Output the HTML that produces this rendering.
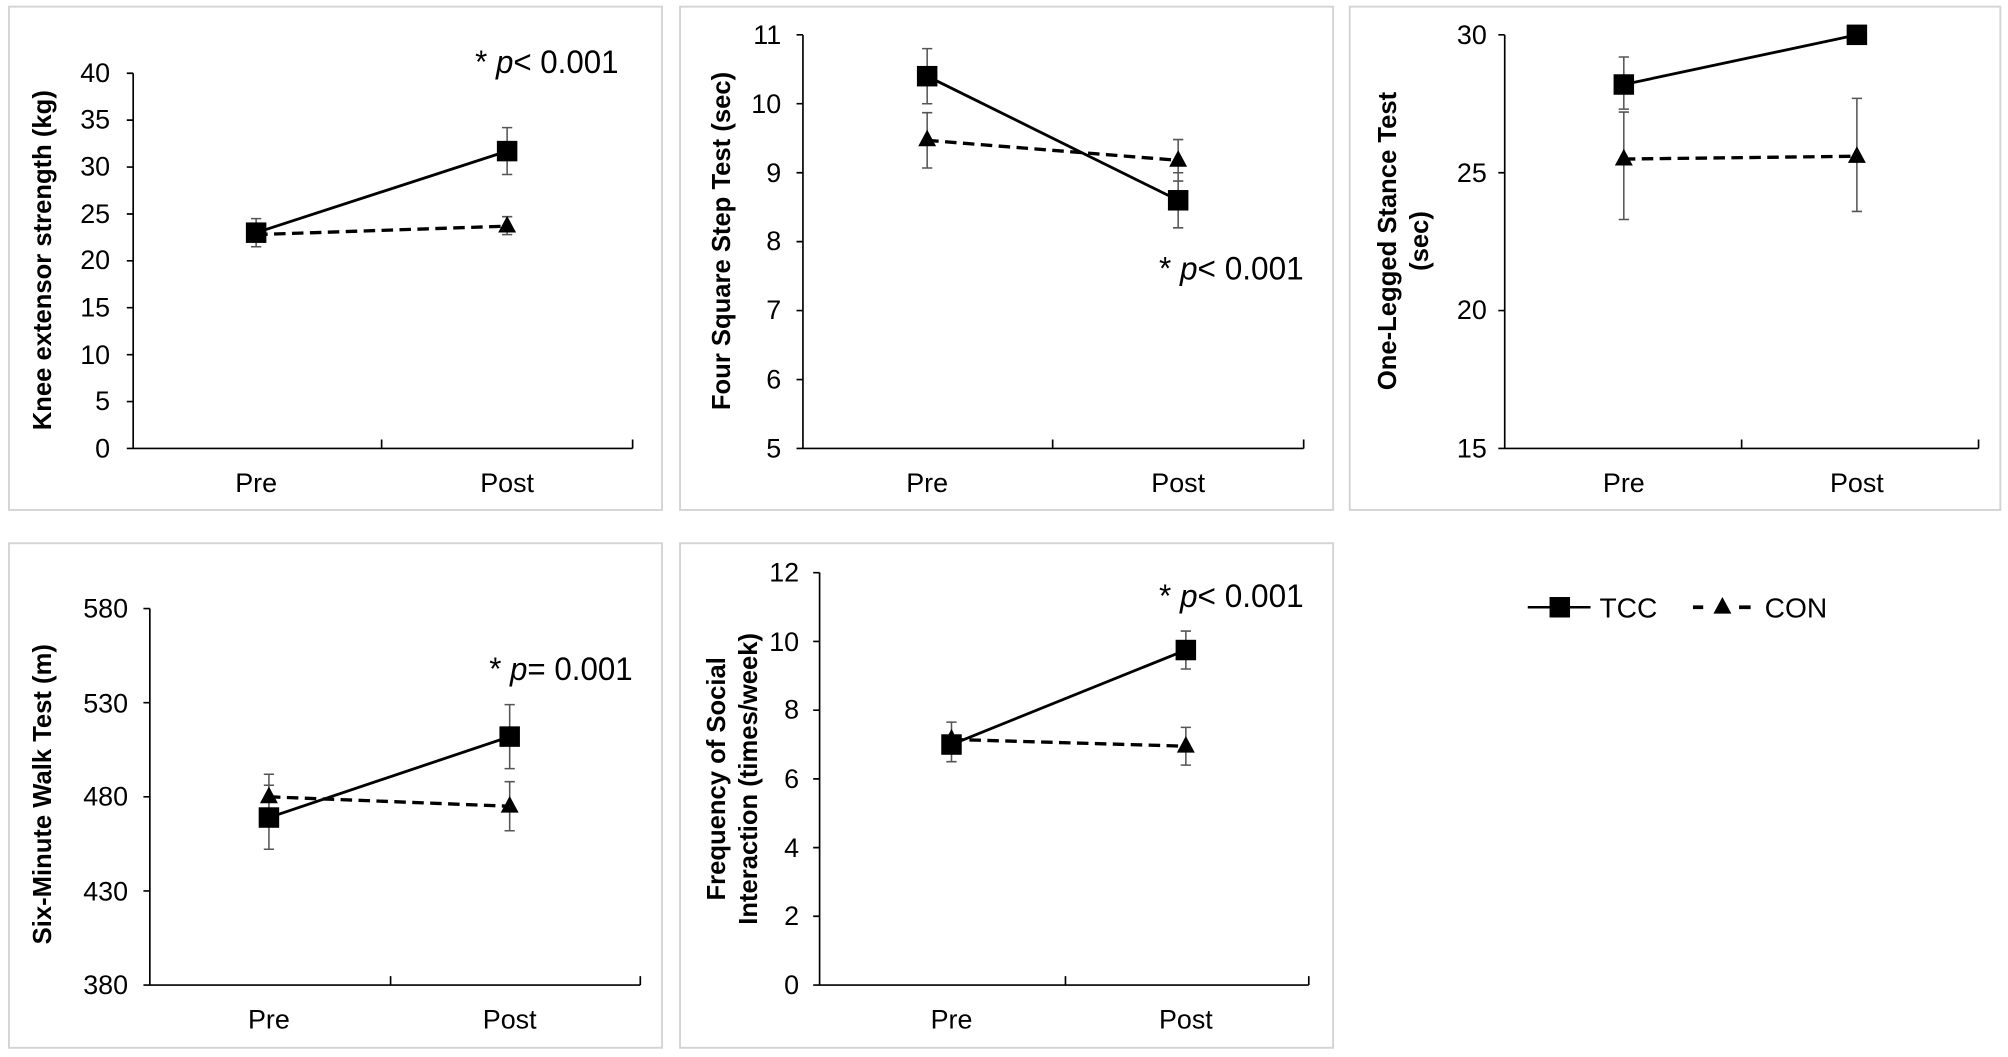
<!DOCTYPE html>
<html><head><meta charset="utf-8"><style>
html,body{margin:0;padding:0;background:#fff}
svg{display:block}
text{font-family:"Liberation Sans",Arial,sans-serif;fill:#000}
.t{font-size:21px}
.yl{font-size:20px;font-weight:bold}
.x{font-size:21px;text-anchor:middle}
.p{font-size:25px}
</style></head><body>
<svg width="2008" height="1057" viewBox="0 0 1568 825" xmlns="http://www.w3.org/2000/svg">
<g fill="none" stroke="#d4d4d4" stroke-width="1.5">
<rect x="7" y="5" width="510" height="393"/>
<rect x="531" y="5" width="510" height="393"/>
<rect x="1054" y="5" width="508" height="393"/>
<rect x="7" y="424" width="510" height="394"/>
<rect x="531" y="424" width="510" height="394"/>
</g>

<!-- Panel 1 -->
<g stroke="#000" stroke-width="1.3" fill="none">
<path d="M104,57V350H494M104,57h-5M104,93.6h-5M104,130.25h-5M104,166.9h-5M104,203.5h-5M104,240.1h-5M104,276.75h-5M104,313.4h-5M104,350h-5M298,350v-7M494,350v-7"/>
</g>
<g class="t" text-anchor="end">
<text x="86" y="64">40</text><text x="86" y="100">35</text><text x="86" y="137">30</text><text x="86" y="174">25</text><text x="86" y="210">20</text><text x="86" y="247">15</text><text x="86" y="284">10</text><text x="86" y="320">5</text><text x="86" y="357">0</text>
</g>
<text class="x" x="200" y="384">Pre</text><text class="x" x="396" y="384">Post</text>
<text class="yl" transform="translate(40,203) rotate(-90)" text-anchor="middle">Knee extensor strength (kg)</text>
<g stroke="#555" stroke-width="1.2">
<path d="M200,192.5V170.5M196,192.5h8M196,170.5h8M396,136.1V99.5M392,136.1h8M392,99.5h8M200,190.3V175.7M396,183V169M392,183h8M392,169h8"/>
</g>
<path d="M200,181.5L396,117.8" stroke="#000" stroke-width="2.2"/>
<path d="M200,183L396,176.4" stroke="#000" stroke-width="2.6" stroke-dasharray="9,5"/>
<rect x="192" y="173.5" width="16" height="16"/><rect x="388" y="109.8" width="16" height="16"/>
<path d="M200,175l7,13h-14z M396,168.4l7,13h-14z"/>
<text class="p" x="371" y="57" textLength="112" lengthAdjust="spacingAndGlyphs">* <tspan font-style="italic">p</tspan>&lt; 0.001</text>

<!-- Panel 2 -->
<g stroke="#000" stroke-width="1.3" fill="none">
<path d="M627,27V350H1018M627,27h-5M627,80.8h-5M627,134.7h-5M627,188.5h-5M627,242.3h-5M627,296.2h-5M627,350h-5M822,350v-7M1018,350v-7"/>
</g>
<g class="t" text-anchor="end">
<text x="610" y="34">11</text><text x="610" y="88">10</text><text x="610" y="142">9</text><text x="610" y="195">8</text><text x="610" y="249">7</text><text x="610" y="303">6</text><text x="610" y="357">5</text>
</g>
<text class="x" x="724" y="384">Pre</text><text class="x" x="920" y="384">Post</text>
<text class="yl" transform="translate(570,188) rotate(-90)" text-anchor="middle">Four Square Step Test (sec)</text>
<g stroke="#555" stroke-width="1.2">
<path d="M724,37.8V80.8M720,37.8h8M720,80.8h8M920,134.7V177.7M916,134.7h8M916,177.7h8M724,87.8V131M720,87.8h8M720,131h8M920,108.8V141.2M916,108.8h8M916,141.2h8"/>
</g>
<path d="M724,59.3L920,156.2" stroke="#000" stroke-width="2.2"/>
<path d="M724,109.4L920,125" stroke="#000" stroke-width="2.6" stroke-dasharray="9,5"/>
<rect x="716" y="51.3" width="16" height="16"/><rect x="912" y="148.2" width="16" height="16"/>
<path d="M724,101l7,13h-14z M920,117l7,13h-14z"/>
<text class="p" x="905" y="218" textLength="113" lengthAdjust="spacingAndGlyphs">* <tspan font-style="italic">p</tspan>&lt; 0.001</text>

<!-- Panel 3 -->
<g stroke="#000" stroke-width="1.3" fill="none">
<path d="M1175,27V350H1545M1175,27h-5M1175,134.7h-5M1175,242.3h-5M1175,350h-5M1360,350v-7M1545,350v-7"/>
</g>
<g class="t" text-anchor="end">
<text x="1161" y="34">30</text><text x="1161" y="142">25</text><text x="1161" y="249">20</text><text x="1161" y="357">15</text>
</g>
<text class="x" x="1268" y="384">Pre</text><text class="x" x="1450" y="384">Post</text>
<text class="yl" transform="translate(1090,188) rotate(-90)" text-anchor="middle">One-Legged Stance Test</text>
<text class="yl" transform="translate(1115,188) rotate(-90)" text-anchor="middle">(sec)</text>
<g stroke="#555" stroke-width="1.2">
<path d="M1268,44.3V85M1264,44.3h8M1264,85h8M1268,87.3V171.2M1264,87.3h8M1264,171.2h8M1450,76.6V164.9M1446,76.6h8M1446,164.9h8"/>
</g>
<path d="M1268,65.8L1450,27" stroke="#000" stroke-width="2.2"/>
<path d="M1268,124L1450,121.8" stroke="#000" stroke-width="2.6" stroke-dasharray="9,5"/>
<rect x="1260" y="57.8" width="16" height="16"/><rect x="1442" y="19" width="16" height="16"/>
<path d="M1268,116l7,13h-14z M1450,114l7,13h-14z"/>

<!-- Panel 4 -->
<g stroke="#000" stroke-width="1.3" fill="none">
<path d="M117,475V769H500M117,475h-5M117,548.5h-5M117,622h-5M117,695.5h-5M117,769h-5M305,769v-7M500,769v-7"/>
</g>
<g class="t" text-anchor="end">
<text x="100" y="482">580</text><text x="100" y="556">530</text><text x="100" y="629">480</text><text x="100" y="703">430</text><text x="100" y="776">380</text>
</g>
<text class="x" x="210" y="803">Pre</text><text class="x" x="398" y="803">Post</text>
<text class="yl" transform="translate(40,620) rotate(-90)" text-anchor="middle">Six-Minute Walk Test (m)</text>
<g stroke="#555" stroke-width="1.2">
<path d="M210,613V663M206,613h8M206,663h8M398,550V600M394,550h8M394,600h8M210,604.4V639.6M206,604.4h8M206,639.6h8M398,610.2V648.5M394,610.2h8M394,648.5h8"/>
</g>
<path d="M210,638.2L398,575" stroke="#000" stroke-width="2.2"/>
<path d="M210,622L398,629.4" stroke="#000" stroke-width="2.6" stroke-dasharray="9,5"/>
<rect x="202" y="630.2" width="16" height="16"/><rect x="390" y="567" width="16" height="16"/>
<path d="M210,614l7,13h-14z M398,621.4l7,13h-14z"/>
<text class="p" x="382" y="531" textLength="112" lengthAdjust="spacingAndGlyphs">* <tspan font-style="italic">p</tspan>= 0.001</text>

<!-- Panel 5 -->
<g stroke="#000" stroke-width="1.3" fill="none">
<path d="M640,447V769H1022M640,447h-5M640,500.7h-5M640,554.4h-5M640,608h-5M640,661.7h-5M640,715.3h-5M640,769h-5M832,769v-7M1022,769v-7"/>
</g>
<g class="t" text-anchor="end">
<text x="624" y="454">12</text><text x="624" y="508">10</text><text x="624" y="561">8</text><text x="624" y="615">6</text><text x="624" y="669">4</text><text x="624" y="722">2</text><text x="624" y="776">0</text>
</g>
<text class="x" x="743" y="803">Pre</text><text class="x" x="926" y="803">Post</text>
<text class="yl" transform="translate(566,608) rotate(-90)" text-anchor="middle">Frequency of Social</text>
<text class="yl" transform="translate(591,608) rotate(-90)" text-anchor="middle">Interaction (times/week)</text>
<g stroke="#555" stroke-width="1.2">
<path d="M743,563.7V594.6M739,563.7h8M739,594.6h8M926,492.6V522.2M922,492.6h8M922,522.2h8M926,567.8V597.3M922,567.8h8M922,597.3h8"/>
</g>
<path d="M743,581.2L926,507.4" stroke="#000" stroke-width="2.2"/>
<path d="M743,577.2L926,582.5" stroke="#000" stroke-width="2.6" stroke-dasharray="9,5"/>
<rect x="735" y="573.2" width="16" height="16"/><rect x="918" y="499.4" width="16" height="16"/>
<path d="M743,569l7,13h-14z M926,574.5l7,13h-14z"/>
<text class="p" x="905" y="474" textLength="113" lengthAdjust="spacingAndGlyphs">* <tspan font-style="italic">p</tspan>&lt; 0.001</text>

<!-- Legend -->
<path d="M1193,474H1242" stroke="#000" stroke-width="2"/>
<rect x="1210" y="466" width="16" height="16"/>
<text x="1249" y="482" style="font-size:22px">TCC</text>
<path d="M1322,474h8M1358,474h9" stroke="#000" stroke-width="3"/>
<path d="M1345,466l7,13h-14z"/>
<text x="1378" y="482" style="font-size:22px">CON</text>
</svg>
</body></html>
